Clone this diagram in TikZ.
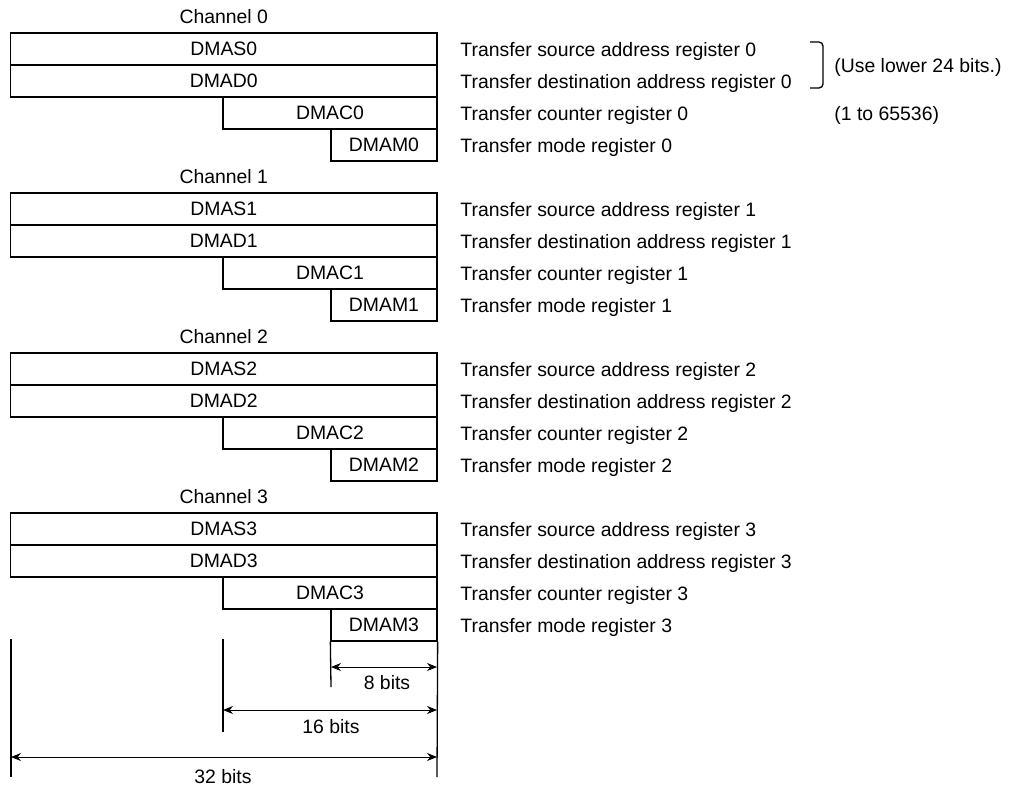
\documentclass[tikz,border=0pt]{standalone}
\usepackage{fontspec}
\setmainfont{Liberation Sans}
\usetikzlibrary{arrows.meta}
\tikzset{
	reg/.style={draw, line width=0.65pt, minimum height=16pt, inner sep=0pt},
	regS/.style={reg, minimum width=213.25pt},
	regC/.style={reg, minimum width=107pt},
	regM/.style={reg, minimum width=53pt},
	desc/.style={anchor=base west, inner sep=0pt},
	dimline/.style={line width=0.65pt},
	dimarrow/.style={{Stealth[length=5pt,width=4pt]}-{Stealth[length=5pt,width=4pt]}, line width=0.45pt}
}
\begin{document}
\begin{tikzpicture}[x=0.5pt, y=-0.5pt, every node/.style={font=\fontsize{9.7}{11.6}\selectfont}]
	\useasboundingbox (0,0) rectangle (1011,788);
	\foreach \c in {0,...,3}{
		\pgfmathsetmacro{\t}{33+160*\c}
		\node (ch\c) at (223.75,\t-16) {Channel \c};
		\node[regS] (s\c) at (223.75,\t+16) {DMAS\c};
		\node[regS] (d\c) at (223.75,\t+48) {DMAD\c};
		\node[regC] (k\c) at (330,\t+80) {DMAC\c};
		\node[regM] (m\c) at (384,\t+112) {DMAM\c};
		\node[desc] (ds\c) at (460,\t+23) {Transfer source address register \c};
		\node[desc] (dd\c) at (460,\t+55) {Transfer destination address register \c};
		\node[desc] (dk\c) at (460,\t+87) {Transfer counter register \c};
		\node[desc] (dm\c) at (460,\t+119) {Transfer mode register \c};
	}
	\node[desc] (use) at (834,72) {(Use lower 24 bits.)};
	\node[desc] (range) at (834,120) {(1 to 65536)};
	\coordinate (br1) at (810,42);
	\coordinate (br2) at (823,42);
	\coordinate (br3) at (823,88);
	\coordinate (br4) at (810,88);
	\draw[dimline, rounded corners=2pt] (br1) -- (br2) -- (br3) -- (br4);
	\coordinate (e32t) at (11,639);
	\coordinate (e32b) at (11,777);
	\coordinate (e16t) at (223,639);
	\coordinate (e16b) at (223,732);
	\coordinate (e8b) at (331,687);
	\coordinate (erb) at (437,777);
	\draw[dimline] (e32t) -- (e32b);
	\draw[dimline] (e16t) -- (e16b);
	\draw[dimline] (m3.south west) -- (e8b);
	\draw[dimline] (m3.south east) -- (erb);
	\coordinate (a8l) at (331,667);
	\coordinate (a8r) at (437,667);
	\coordinate (a16l) at (223,710);
	\coordinate (a16r) at (437,710);
	\coordinate (a32l) at (11,757);
	\coordinate (a32r) at (437,757);
	\draw[dimarrow] (a8l) -- (a8r);
	\draw[dimarrow] (a16l) -- (a16r);
	\draw[dimarrow] (a32l) -- (a32r);
	\node (l8) at (387,683) {8 bits};
	\node (l16) at (331,727) {16 bits};
	\node (l32) at (223,777) {32 bits};
\end{tikzpicture}
\end{document}
